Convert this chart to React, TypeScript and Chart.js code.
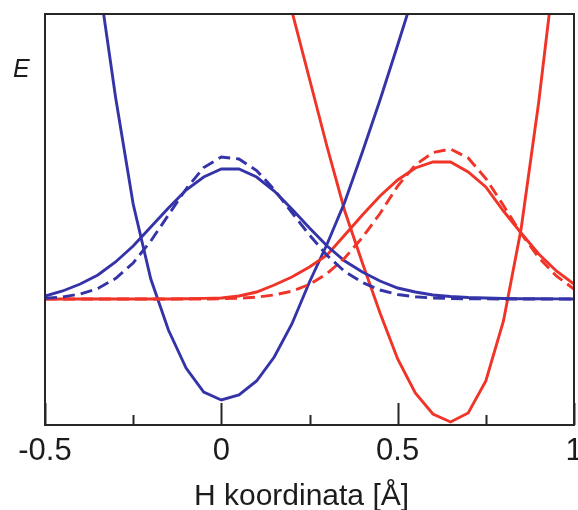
import { useEffect, useRef } from 'react';
import { Chart, registerables } from 'chart.js';

Chart.register(...registerables);

// Grid of H coordinates (Å) used for the wavefunctions
const xGrid = [
  -0.5, -0.45, -0.4, -0.35, -0.3, -0.25, -0.2, -0.15, -0.1, -0.05,
  0, 0.05, 0.1, 0.15, 0.2, 0.25, 0.3, 0.35, 0.4, 0.45,
  0.5, 0.55, 0.6, 0.65, 0.7, 0.75, 0.8, 0.85, 0.9, 0.95, 1.0,
];

// Wavefunctions (arbitrary energy units, baseline 0)
const blueWaveSolid = [
  0.03, 0.08, 0.15, 0.24, 0.37, 0.53, 0.72, 0.91, 1.09, 1.22,
  1.30, 1.30, 1.22, 1.08, 0.90, 0.71, 0.53, 0.38, 0.27, 0.18,
  0.11, 0.07, 0.04, 0.025, 0.015, 0.01, 0.005, 0.003, 0.002, 0.001, 0,
];
const blueWaveDashed = [
  0.008, 0.02, 0.05, 0.105, 0.205, 0.36, 0.58, 0.84, 1.10, 1.315,
  1.42, 1.40, 1.285, 1.095, 0.865, 0.64, 0.435, 0.275, 0.165, 0.09,
  0.045, 0.022, 0.01, 0.005, 0.002, 0.001, 0, 0, 0, 0, 0,
];
const redWaveSolid = [
  0, 0, 0, 0, 0, 0, 0, 0, 0.003, 0.006,
  0.01, 0.03, 0.07, 0.14, 0.22, 0.32, 0.44, 0.64, 0.84, 1.03,
  1.19, 1.31, 1.37, 1.37, 1.27, 1.12, 0.88, 0.66, 0.45, 0.28, 0.15,
];
const redWaveDashed = [
  0, 0, 0, 0, 0, 0, 0, 0, 0, 0,
  0.003, 0.008, 0.018, 0.04, 0.078, 0.146, 0.254, 0.41, 0.615, 0.855,
  1.13, 1.34, 1.465, 1.50, 1.41, 1.205, 0.935, 0.655, 0.415, 0.23, 0.10,
];

// Potential energy curves
const bluePotX = [
  -0.35, -0.3, -0.25, -0.2, -0.15, -0.1, -0.05, 0, 0.05, 0.1,
  0.15, 0.2, 0.25, 0.3, 0.35, 0.4, 0.45, 0.5, 0.55,
];
const bluePot = [
  3.25, 2.02, 0.95, 0.2, -0.31, -0.69, -0.93, -1.01, -0.96, -0.82,
  -0.58, -0.25, 0.17, 0.55, 0.97, 1.47, 1.99, 2.54, 3.1,
];
const redPotX = [
  0.15, 0.2, 0.25, 0.3, 0.35, 0.4, 0.45, 0.5, 0.55, 0.6,
  0.65, 0.7, 0.75, 0.8, 0.85, 0.9, 0.95,
];
const redPot = [
  3.6, 2.88, 2.2, 1.52, 0.88, 0.36, -0.14, -0.6, -0.94, -1.15,
  -1.23, -1.14, -0.82, -0.22, 0.7, 1.97, 3.45,
];

// Axis ticks and labels
const tickValues = [-0.5, 0, 0.5, 1];
const tickLabels = ['-0.5', '0', '0.5', '1'];
const minorTicks = [-0.25, 0.25, 0.75];
const xTitle = 'H koordinata [Å]';
const yTitle = 'E';

const BLUE = 'rgb(52,52,168)';
const RED = 'rgb(240,52,40)';
const INK = '#1c1c1c';
const FONT = '"Liberation Sans", Arial, sans-serif';

function pts(xs: number[], ys: number[]) {
  return xs.map((x, i) => ({ x, y: ys[i] }));
}

const decor = {
  id: 'decor',
  afterDatasetsDraw(chart: any) {
    const { ctx, chartArea: a, scales } = chart;
    const x = scales.x;
    ctx.save();
    ctx.strokeStyle = '#262626';
    ctx.lineWidth = 2;
    ctx.strokeRect(a.left, a.top, a.right - a.left, a.bottom - a.top);
    ctx.beginPath();
    tickValues.forEach((v) => {
      const px = Math.round(x.getPixelForValue(v)) + 0.5;
      ctx.moveTo(px, a.bottom);
      ctx.lineTo(px, a.bottom - 22);
    });
    minorTicks.forEach((v) => {
      const px = Math.round(x.getPixelForValue(v)) + 0.5;
      ctx.moveTo(px, a.bottom);
      ctx.lineTo(px, a.bottom - 10);
    });
    ctx.stroke();
    ctx.restore();
  },
  afterDraw(chart: any) {
    const { ctx, chartArea: a } = chart;
    ctx.save();
    ctx.fillStyle = INK;
    ctx.font = `30px ${FONT}`;
    ctx.textAlign = 'center';
    ctx.textBaseline = 'alphabetic';
    ctx.fillText(xTitle, (a.left + a.right) / 2 - 8, 505);
    ctx.font = `italic 25px ${FONT}`;
    ctx.textAlign = 'left';
    ctx.fillText(yTitle, 13, 77);
    ctx.restore();
  },
};

export default function App() {
  const ref = useRef<HTMLCanvasElement | null>(null);

  useEffect(() => {
    if (!ref.current) return;
    const line = (data: any, color: string, dashed: boolean) => ({
      data,
      borderColor: color,
      borderWidth: 2.9,
      borderDash: dashed ? [12, 6] : [],
      pointRadius: 0,
      tension: 0,
      fill: false,
    });
    const chart = new Chart(ref.current, {
      type: 'line',
      data: {
        datasets: [
          line(pts(xGrid, blueWaveDashed), BLUE, true),
          line(pts(xGrid, redWaveDashed), RED, true),
          line(pts(xGrid, blueWaveSolid), BLUE, false),
          line(pts(xGrid, redWaveSolid), RED, false),
          line(pts(bluePotX, bluePot), BLUE, false),
          line(pts(redPotX, redPot), RED, false),
        ],
      },
      options: {
        responsive: false,
        animation: false,
        events: [],
        layout: { padding: { left: 45, right: 4, top: 14, bottom: 0 } },
        plugins: { legend: { display: false }, tooltip: { enabled: false } },
        scales: {
          x: {
            type: 'linear',
            min: -0.5,
            max: 1,
            afterBuildTicks: (s: any) => {
              s.ticks = tickValues.map((v) => ({ value: v }));
            },
            afterFit: (s: any) => {
              s.height = 85;
              s.paddingLeft = 0;
              s.paddingRight = 0;
            },
            ticks: {
              autoSkip: false,
              maxRotation: 0,
              padding: 8,
              color: INK,
              font: { family: FONT, size: 31 },
              callback: (v: any) => {
                const i = tickValues.indexOf(Number(v));
                return i >= 0 ? tickLabels[i] : '';
              },
            },
            grid: { display: false, drawTicks: false },
            border: { display: false },
          },
          y: { display: false, min: -1.26, max: 2.85 },
        },
      },
      plugins: [decor],
    } as any);
    return () => chart.destroy();
  }, []);

  return (
    <canvas
      ref={ref}
      width={578}
      height={510}
      style={{ position: 'fixed', left: 0, top: 0, display: 'block' }}
    />
  );
}
